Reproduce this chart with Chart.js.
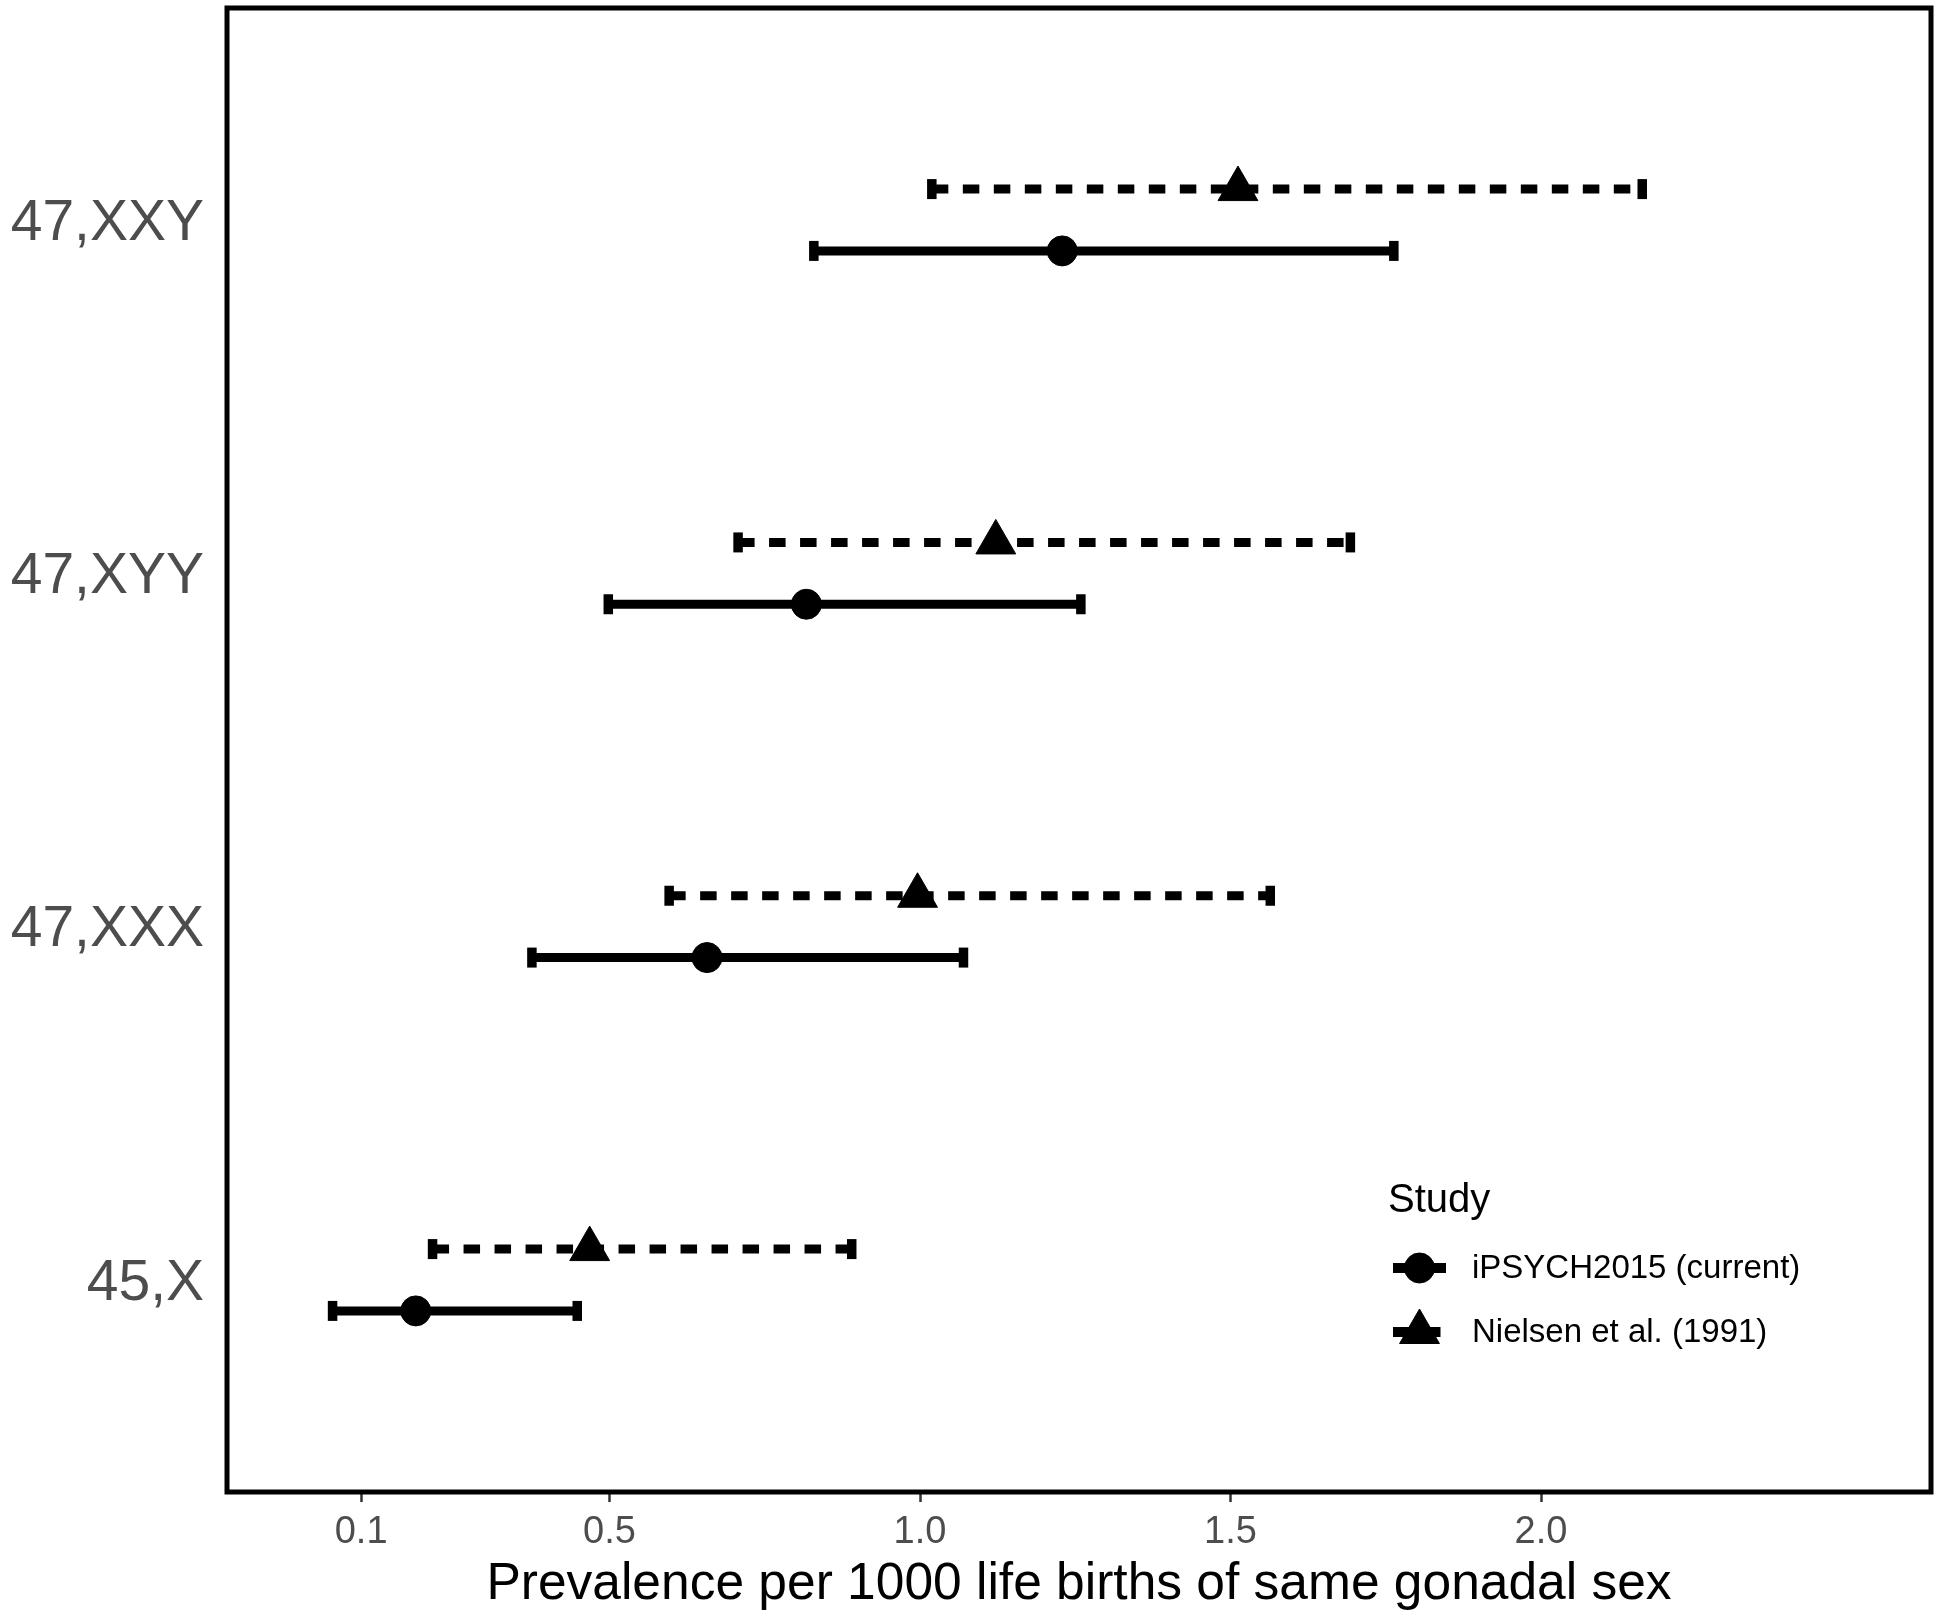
<!DOCTYPE html>
<html><head><meta charset="utf-8">
<script src="https://cdn.jsdelivr.net/npm/chart.js@4.4.1/dist/chart.umd.min.js"></script>
<style>html,body{margin:0;padding:0;background:#fff;} #wrap{width:1939px;height:1620px;position:relative}</style>
</head><body><div id="wrap"><canvas id="c" width="1939" height="1620"></canvas></div>
<script>
// ---- data ----
const categories = ["45,X", "47,XXX", "47,XYY", "47,XXY"];
const seriesNames = ["iPSYCH2015 (current)", "Nielsen et al. (1991)"];
const ipsychEst  = [0.188, 0.657, 0.817, 1.229];
const ipsychLow  = [0.054, 0.375, 0.498, 0.829];
const ipsychHigh = [0.448, 1.070, 1.259, 1.763];
const nielsenEst  = [0.468, 0.996, 1.122, 1.512];
const nielsenLow  = [0.215, 0.596, 0.707, 1.019];
const nielsenHigh = [0.890, 1.564, 1.693, 2.163];
const xTickValues = [0.1, 0.5, 1.0, 1.5, 2.0];
const xTickLabels = ["0.1", "0.5", "1.0", "1.5", "2.0"];
const xTitle = "Prevalence per 1000 life births of same gonadal sex";
const legendTitle = "Study";

// ---- styling ----
const FONT = '"Liberation Sans", Arial, Helvetica, sans-serif';
const DODGE = 0.0875;
const DASH = [16.5, 14.5];
const LINE_W = 9;

function barDatasets(low, high, sign, dashed) {
  return categories.map((c, i) => ({
    label: c,
    data: [{x: low[i], y: i + 1 + sign * DODGE}, {x: high[i], y: i + 1 + sign * DODGE}],
    showLine: true,
    borderColor: '#000',
    borderWidth: LINE_W,
    borderDash: dashed ? DASH : [],
    borderCapStyle: 'butt',
    pointStyle: 'line',
    rotation: 90,
    pointRadius: 10,
    pointHoverRadius: 10,
    pointBorderWidth: 9.5,
    pointHoverBorderWidth: 9.5,
    pointBorderColor: '#000',
    pointBackgroundColor: '#000',
    order: 2,
    clip: false
  }));
}

const markerSets = [
  {
    label: seriesNames[0],
    data: ipsychEst.map((v, i) => ({x: v, y: i + 1 - DODGE})),
    pointStyle: 'circle', pointRadius: 15, pointHoverRadius: 15,
    pointBackgroundColor: '#000', pointBorderColor: '#000', pointBorderWidth: 1,
    showLine: false, order: 0, clip: false, dashed: false
  },
  {
    label: seriesNames[1],
    data: nielsenEst.map((v, i) => ({x: v, y: i + 1 + DODGE})),
    pointStyle: 'triangle', pointRadius: 23, pointHoverRadius: 23,
    pointBackgroundColor: '#000', pointBorderColor: '#000', pointBorderWidth: 1,
    showLine: false, order: 0, clip: false, dashed: true
  }
];

const datasets = [
  ...markerSets,
  ...barDatasets(ipsychLow, ipsychHigh, -1, false),
  ...barDatasets(nielsenLow, nielsenHigh, +1, true)
];

const borderPlugin = {
  id: 'panelBorder',
  afterDraw(chart) {
    const {ctx, chartArea: a} = chart;
    ctx.save();
    ctx.strokeStyle = '#000';
    ctx.lineWidth = 5;
    ctx.strokeRect(a.left, a.top, a.right - a.left, a.bottom - a.top);
    ctx.restore();
  }
};

function drawMarker(ctx, style, r, x, y) {
  ctx.save();
  ctx.fillStyle = '#000'; ctx.strokeStyle = '#000'; ctx.lineWidth = 1;
  if (Chart.helpers && Chart.helpers.drawPoint) {
    Chart.helpers.drawPoint(ctx, {pointStyle: style, radius: r, borderWidth: 1, rotation: 0}, x, y);
  } else {
    ctx.beginPath();
    if (style === 'circle') ctx.arc(x, y, r, 0, Math.PI * 2);
    else {
      for (let k = 0; k < 3; k++) {
        const ang = k * 2 * Math.PI / 3;
        const px = x + Math.sin(ang) * r, py = y - Math.cos(ang) * r;
        k ? ctx.lineTo(px, py) : ctx.moveTo(px, py);
      }
      ctx.closePath();
    }
    ctx.fill(); ctx.stroke();
  }
  ctx.restore();
}

const legendPlugin = {
  id: 'insideLegend',
  afterDraw(chart) {
    const {ctx} = chart;
    ctx.save();
    ctx.fillStyle = '#000';
    ctx.textAlign = 'left';
    ctx.textBaseline = 'alphabetic';
    ctx.font = '40px ' + FONT;
    ctx.fillText(legendTitle, 1388, 1212);
    const rowsY = [1268, 1332];
    markerSets.forEach((ds, k) => {
      const y = rowsY[k];
      ctx.save();
      ctx.strokeStyle = '#000';
      ctx.lineWidth = 10;
      ctx.lineCap = 'butt';
      ctx.setLineDash(ds.dashed ? DASH : []);
      ctx.beginPath();
      ctx.moveTo(1393, y); ctx.lineTo(1446, y);
      ctx.stroke();
      ctx.restore();
      drawMarker(ctx, ds.pointStyle, ds.pointRadius, 1419.5, y);
      ctx.fillStyle = '#000';
      ctx.font = '33px ' + FONT;
      ctx.textBaseline = 'alphabetic';
      ctx.fillText(ds.label, 1472, y + 10);
    });
    ctx.restore();
  }
};

new Chart(document.getElementById('c'), {
  type: 'scatter',
  data: {datasets},
  options: {
    responsive: false,
    devicePixelRatio: 1,
    animation: false,
    events: [],
    layout: {autoPadding: false, padding: {top: 8, right: 8, left: 0, bottom: 0}},
    plugins: {legend: {display: false}, tooltip: {enabled: false}},
    scales: {
      x: {
        type: 'linear', min: -0.116, max: 2.628,
        afterBuildTicks: s => { s.ticks = xTickValues.map(v => ({value: v})); },
        afterFit: s => { s.height = 128; s.paddingLeft = 0; s.paddingRight = 0; },
        ticks: {
          callback: (v, i) => xTickLabels[i],
          font: {family: FONT, size: 38}, color: '#4d4d4d',
          padding: 8, maxRotation: 0, autoSkip: false
        },
        grid: {display: true, drawOnChartArea: false, drawTicks: true, tickLength: 10, tickColor: '#333333', tickWidth: 2.5},
        border: {display: false},
        title: {display: true, text: xTitle, color: '#000', font: {family: FONT, size: 51.5}, padding: {top: 0, bottom: 4}}
      },
      y: {
        type: 'linear', min: 0.4, max: 4.6,
        afterBuildTicks: s => { s.ticks = categories.map((c, i) => ({value: i + 1})); },
        afterFit: s => { s.width = 227; s.paddingTop = 0; s.paddingBottom = 0; },
        ticks: {
          callback: (v, i) => categories[i],
          font: {family: FONT, size: 57}, color: '#4d4d4d',
          padding: 23, autoSkip: false, labelOffset: 4
        },
        grid: {display: false, drawTicks: false},
        border: {display: false}
      }
    }
  },
  plugins: [borderPlugin, legendPlugin]
});
</script>
</body></html>
